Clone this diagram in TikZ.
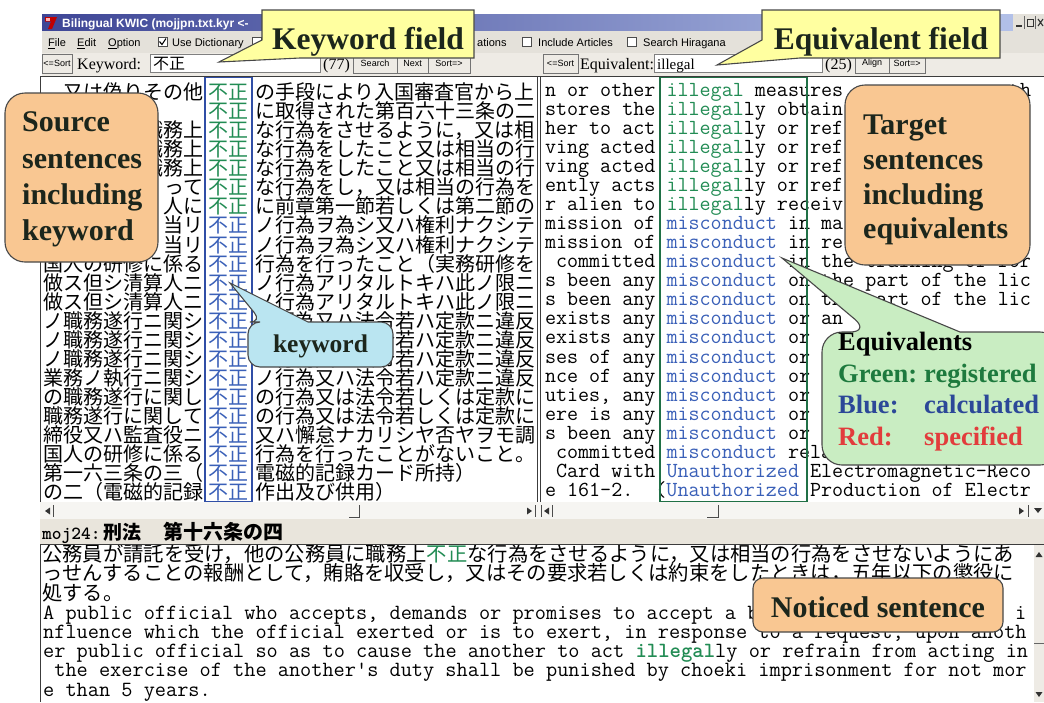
\documentclass[tikz,border=0pt]{standalone}
\usepackage{fontspec}
\setmainfont{Liberation Serif}
\setsansfont{Liberation Sans}
\newfontfamily\jpfont{Noto Sans CJK JP}
\frenchspacing

\definecolor{kwgreen}{RGB}{34,140,84}
\definecolor{kwblue}{RGB}{58,96,184}
\definecolor{colgreen}{RGB}{32,112,70}
\definecolor{colblue}{RGB}{48,78,166}
\definecolor{titleL}{RGB}{62,70,150}
\definecolor{titleR}{RGB}{178,192,232}
\definecolor{chrome}{RGB}{228,225,218}
\definecolor{chromelt}{RGB}{238,235,229}
\definecolor{band}{RGB}{233,229,220}
\definecolor{scrollbg}{RGB}{246,245,242}
\definecolor{frameline}{RGB}{60,60,60}
\definecolor{yellowbox}{RGB}{255,255,160}
\definecolor{peach}{RGB}{249,199,146}
\definecolor{cyanbox}{RGB}{186,229,241}
\definecolor{mintbox}{RGB}{201,237,194}
\definecolor{calloutline}{RGB}{72,72,72}
\definecolor{callouttext}{RGB}{28,38,28}
\definecolor{legendgreen}{RGB}{30,122,62}
\definecolor{legendblue}{RGB}{44,72,152}
\definecolor{legendred}{RGB}{226,60,60}

\newcommand\kwg[1]{\textcolor{kwgreen}{#1}}
\newcommand\kwb[1]{\textcolor{kwblue}{#1}}
% make the word space of the current monospaced font exactly one character wide
\newcommand\fixmono{\setbox0\hbox{x}\fontdimen2\font=\wd0 \fontdimen3\font=0pt \fontdimen4\font=0pt\relax}

% one row of the Japanese concordance: index, left context, keyword colour, right context
\newcommand\jprow[4]{%
  \pgfmathsetmacro\rowbase{99.6+19.05*(#1-1)}%
  \node[jptxt,anchor=base east] (jpre#1) at (203,\rowbase) {#2};
  \node[jptxt,anchor=base,text=#3] (jkw#1) at (228.5,\rowbase) {不正};
  \node[jptxt,anchor=base west] (jsuf#1) at (255,\rowbase) {#4};
}
% one row of the English concordance
\newcommand\enrow[2]{%
  \pgfmathsetmacro\rowbase{96.3+19.05*(#1-1)}%
  \node[entxt,anchor=base west] (en#1) at (545,\rowbase) {#2};
}

\begin{document}
\begin{tikzpicture}[x=1pt,y=-1pt,
  jptxt/.style={font=\jpfont\fontsize{20}{20}\selectfont, inner sep=0pt, outer sep=0pt,
    text height=15pt, text depth=1.5pt},
  jpbot/.style={font=\jpfont\fontsize{20.3}{20.3}\selectfont, inner sep=0pt, anchor=base west,
    text height=15pt, text depth=1.5pt},
  entxt/.style={font=\ttfamily\fontsize{21.45}{21.45}\selectfont\fixmono, inner sep=0pt, outer sep=0pt,
    text height=12.5pt, text depth=3.5pt},
  enbot/.style={font=\ttfamily\fontsize{21.7}{21.7}\selectfont\fixmono, inner sep=0pt, anchor=base west,
    text height=12.5pt, text depth=3.5pt},
  menutxt/.style={font=\sffamily\fontsize{11}{11}\selectfont, inner sep=0pt, anchor=base west},
  fieldlab/.style={font=\fontsize{16}{16}\selectfont, inner sep=0pt, anchor=base west},
  btn/.style={draw=black!55, fill=chromelt, line width=0.6pt, font=\sffamily\fontsize{9}{9}\selectfont,
    inner sep=0pt, minimum height=19pt},
  cbox/.style={draw=black!70, fill=white, line width=0.6pt},
  pane/.style={draw=frameline, line width=0.8pt},
  callout/.style={draw=calloutline, line width=1.1pt},
  calltxt/.style={font=\bfseries\fontsize{30}{30}\selectfont, text=callouttext, inner sep=0pt},
  legend/.style={font=\bfseries\fontsize{26.5}{26.5}\selectfont, inner sep=0pt, anchor=base west},
  arrowglyph/.style={fill=black!80}
]
\useasboundingbox (0,0) rectangle (1044,702);
\fill[white] (0,0) rectangle (1044,702);

% ---------- title bar ----------
\shade[left color=titleL, right color=titleR] (42,14) rectangle (1013,31);
\fill[chrome] (1013,14) rectangle (1044,31);
\draw[black!80, line width=1.2pt] (1016,26) -- (1022,26);
\draw[black!60, line width=0.5pt] (1024.5,16) -- (1024.5,29) (1035.5,16) -- (1035.5,29);
\draw[black!80, line width=1pt] (1027,19) rectangle (1033,26);
\draw[black!80, line width=1.1pt] (1038,19) -- (1043,26) (1038,26) -- (1043,19);
\fill[red!75!black] (45,17) -- (57,17) -- (52,29) -- (48,29) -- (51,21.5) -- (45,21.5) -- cycle;
\fill[red!30] (46,18) -- (50,18) -- (50,20.5) -- (46,20.5) -- cycle;
\node[font=\sffamily\bfseries\fontsize{12}{12}\selectfont, text=white, inner sep=0pt, anchor=base west]
  (title) at (62,27) {Bilingual KWIC (mojjpn.txt.kyr <-};

% ---------- menu bar ----------
\fill[chrome] (42,31) rectangle (1044,53);
\node[menutxt] (mfile) at (48,46.5) {\underline{F}ile};
\node[menutxt] (medit) at (77,46.5) {\underline{E}dit};
\node[menutxt] (mopt) at (108,46.5) {\underline{O}ption};
\draw[cbox] (158,37.5) rectangle (167,46.5);
\draw[black, line width=1.1pt] (159.5,41.5) -- (162,44.5) -- (166,38.5);
\node[menutxt] (mdict) at (172,46.5) {Use Dictionary};
\draw[cbox] (252,37.5) rectangle (261,46.5);
\node[menutxt] (mtrans) at (477,46.5) {ations};
\draw[cbox] (522,37.5) rectangle (531,46.5);
\node[menutxt] (marts) at (538,46.5) {Include Articles};
\draw[cbox] (627,37.5) rectangle (636,46.5);
\node[menutxt] (mhira) at (643,46.5) {Search Hiragana};

% ---------- keyword / equivalent row ----------
\fill[chromelt] (42,53) rectangle (1044,76);
\node[btn, minimum width=30pt] (sortL) at (57,63.5) {<=Sort};
\node[fieldlab] (kwlab) at (77,69) {Keyword:};
\draw[fill=white, draw=black!50, line width=0.6pt] (150,54.5) rectangle (320,72.5);
\node[font=\jpfont\fontsize{16}{16}\selectfont, inner sep=0pt, anchor=base west] (kwval) at (153,69) {不正};
\node[fieldlab] (kwcount) at (323,69) {(77)};
\node[btn, minimum width=44pt] (search) at (375,63.5) {Search};
\node[btn, minimum width=31pt] (nextb) at (412.5,63.5) {Next};
\node[btn, minimum width=42pt] (sortR) at (449,63.5) {Sort=>};
\node[btn, minimum width=35pt] (esortL) at (560.5,63.5) {<=Sort};
\node[fieldlab] (eqlab) at (580,69) {Equivalent:};
\draw[fill=white, draw=black!50, line width=0.6pt] (654,54.5) rectangle (822,72.5);
\node[fieldlab, font=\fontsize{15}{15}\selectfont] (eqval) at (657,69) {illegal};
\node[fieldlab] (eqcount) at (825,69) {(25)};
\node[btn, minimum width=34pt] (alignb) at (872,63.5) {Align};
\node[btn, minimum width=36pt] (esortR) at (907,63.5) {Sort=>};

% ---------- concordance panes ----------
\fill[white] (40,76) rectangle (1044,502);
\begin{scope}
  \clip (40,76) rectangle (537,502);
  \jprow{1}{又は偽りその他}{kwgreen}{の手段により入国審査官から上}
  \jprow{2}{}{kwgreen}{に取得された第百六十三条の二}
  \jprow{3}{職務上}{kwgreen}{な行為をさせるように，又は相}
  \jprow{4}{職務上}{kwgreen}{な行為をしたこと又は相当の行}
  \jprow{5}{職務上}{kwgreen}{な行為をしたこと又は相当の行}
  \jprow{6}{って}{kwgreen}{な行為をし，又は相当の行為を}
  \jprow{7}{人に}{kwgreen}{に前章第一節若しくは第二節の}
  \jprow{8}{当リ}{kwblue}{ノ行為ヲ為シ又ハ権利ナクシテ}
  \jprow{9}{当リ}{kwblue}{ノ行為ヲ為シ又ハ権利ナクシテ}
  \jprow{10}{国人の研修に係る}{kwblue}{行為を行ったこと（実務研修を}
  \jprow{11}{做ス但シ清算人ニ}{kwblue}{ノ行為アリタルトキハ此ノ限ニ}
  \jprow{12}{做ス但シ清算人ニ}{kwblue}{ノ行為アリタルトキハ此ノ限ニ}
  \jprow{13}{ノ職務遂行ニ関シ}{kwblue}{ノ行為又ハ法令若ハ定款ニ違反}
  \jprow{14}{ノ職務遂行ニ関シ}{kwblue}{ノ行為又ハ法令若ハ定款ニ違反}
  \jprow{15}{ノ職務遂行ニ関シ}{kwblue}{ノ行為又ハ法令若ハ定款ニ違反}
  \jprow{16}{業務ノ執行ニ関シ}{kwblue}{ノ行為又ハ法令若ハ定款ニ違反}
  \jprow{17}{の職務遂行に関し}{kwblue}{の行為又は法令若しくは定款に}
  \jprow{18}{職務遂行に関して}{kwblue}{の行為又は法令若しくは定款に}
  \jprow{19}{締役又ハ監査役ニ}{kwblue}{又ハ懈怠ナカリシヤ否ヤヲモ調}
  \jprow{20}{国人の研修に係る}{kwblue}{行為を行ったことがないこと。}
  \jprow{21}{第一六三条の三（}{kwblue}{電磁的記録カード所持）}
  \jprow{22}{の二（電磁的記録}{kwblue}{作出及び供用）}
\end{scope}
\begin{scope}
  \clip (540,76) rectangle (1036,502);
  \enrow{1}{n or other \kwg{illegal} measures.}
  \node[entxt, anchor=base west] (en1tail) at (1009,96.3) {th};
  \enrow{2}{stores the \kwg{illegal}ly obtain}
  \enrow{3}{her to act \kwg{illegal}ly or ref}
  \enrow{4}{ving acted \kwg{illegal}ly or ref}
  \enrow{5}{ving acted \kwg{illegal}ly or ref}
  \enrow{6}{ently acts \kwg{illegal}ly or ref}
  \enrow{7}{r alien to \kwg{illegal}ly receiv}
  \enrow{8}{mission of \kwb{misconduct} in ma}
  \enrow{9}{mission of \kwb{misconduct} in re}
  \enrow{10}{\ committed \kwb{misconduct} in the training of for}
  \enrow{11}{s been any \kwb{misconduct} on the part of the lic}
  \enrow{12}{s been any \kwb{misconduct} on the part of the lic}
  \enrow{13}{exists any \kwb{misconduct} or an}
  \enrow{14}{exists any \kwb{misconduct} or}
  \enrow{15}{ses of any \kwb{misconduct} or}
  \enrow{16}{nce of any \kwb{misconduct} or}
  \enrow{17}{uties, any \kwb{misconduct} or}
  \enrow{18}{ere is any \kwb{misconduct} or}
  \enrow{19}{s been any \kwb{misconduct} or}
  \enrow{20}{\ committed \kwb{misconduct} rela}
  \enrow{21}{\ Card with \kwb{Unauthorized} Electromagnetic-Reco}
  \enrow{22}{e 161-2.\ \ (\kwb{Unauthorized} Production of Electr}
\end{scope}
% keyword column frames
\draw[colblue, line width=1.5pt] (205,77) rectangle (252,502);
\draw[colgreen, line width=1.5pt] (660,77) rectangle (807,502);
% pane borders
\draw[pane] (40,76) -- (1044,76);
\draw[pane] (40,76) -- (40,519);
\draw[pane] (537,76) -- (537,502) (540,76) -- (540,502);

% ---------- horizontal scroll bars ----------
\fill[scrollbg] (40.4,502) rectangle (1044,519);
\fill[arrowglyph] (45,511) -- (50,507.5) -- (50,514.5) -- cycle;
\draw[black!70, line width=0.7pt] (53,505) -- (53,517);
\draw[black!70, line width=0.7pt] (349,517) -- (359,517) -- (359,505);
\fill[arrowglyph] (527,507.5) -- (532,511) -- (527,514.5) -- cycle;
\draw[black!70, line width=0.7pt] (535,505) -- (535,517) (541,505) -- (541,517);
\fill[arrowglyph] (544,511) -- (549,507.5) -- (549,514.5) -- cycle;
\draw[black!70, line width=0.7pt] (552,505) -- (552,517);
\draw[black!70, line width=0.7pt] (707,517) -- (718,517) -- (718,505);
\fill[arrowglyph] (1019,507.5) -- (1024,511) -- (1019,514.5) -- cycle;
\draw[black!70, line width=0.7pt] (1028,505) -- (1028,517);
\fill[arrowglyph] (1034,508) -- (1042,508) -- (1038,513) -- cycle;

% ---------- article label band ----------
\fill[band] (40,519) rectangle (1044,544);
\node[font=\ttfamily\bfseries\fontsize{18.5}{18.5}\selectfont, inner sep=0pt, anchor=base west]
  (artid) at (42,539) {moj24:};
\node[font=\jpfont\bfseries\fontsize{19}{19}\selectfont, inner sep=0pt, anchor=base west]
  (artlaw) at (103,539.5) {刑法};
\node[font=\jpfont\bfseries\fontsize{20}{20}\selectfont, inner sep=0pt, anchor=base west]
  (artno) at (163,539.5) {第十六条の四};

% ---------- noticed sentence pane ----------
\fill[white] (40,544) rectangle (1044,702);
\fill[chromelt] (1034,545) rectangle (1044,702);
\fill[arrowglyph] (1035.5,557) -- (1042.5,557) -- (1039,552) -- cycle;
\draw[black!60, line width=0.7pt] (1034,643) -- (1044,643);
\fill[arrowglyph] (1035.5,692) -- (1042.5,692) -- (1039,697) -- cycle;
\begin{scope}
  \clip (40,544.5) rectangle (1034,702);
  \node[jpbot] (bj1) at (42,561.5) {公務員が請託を受け，他の公務員に職務上\kwg{不正}な行為をさせるように，又は相当の行為をさせないようにあ};
  \node[jpbot] (bj2) at (42,580.8) {っせんすることの報酬として，賄賂を収受し，又はその要求若しくは約束をしたときは，五年以下の懲役に};
  \node[jpbot] (bj3) at (42,600) {処する。};
  \node[enbot] (be1) at (43,619.5) {A public official who accepts, demands or promises to accept a b};
  \node[enbot] (be1tail) at (1015,619.5) {i};
  \node[enbot] (be2) at (43,638.5) {nfluence which the official exerted or is to exert, in response to a request, upon anoth};
  \node[enbot] (be3) at (43,657.5) {er public official so as to cause the another to act \textbf{\kwg{illegal}}ly or refrain from acting in};
  \node[enbot] (be4) at (43,676.5) {\ the exercise of the another's duty shall be punished by choeki imprisonment for not mor};
  \node[enbot] (be5) at (43,696) {e than 5 years.};
\end{scope}
\draw[pane] (40,544) -- (1044,544);
\draw[pane] (40,544) -- (40,702);

% ---------- callouts ----------
% Keyword field
\filldraw[callout, fill=yellowbox] (262,10) -- (474,10) -- (474,58) -- (300,58) -- (219,62) -- (262,40) -- cycle;
\node[calltxt, font=\bfseries\fontsize{31.5}{31.5}\selectfont, anchor=base] (kwfield) at (368,49) {Keyword field};
% Equivalent field
\filldraw[callout, fill=yellowbox] (762,10) -- (1000,10) -- (1000,58) -- (800,58) -- (717,65) -- (762,40) -- cycle;
\node[calltxt, font=\bfseries\fontsize{31.5}{31.5}\selectfont, anchor=base] (eqfield) at (881,49) {Equivalent field};
% Source sentences
\filldraw[callout, fill=peach, rounded corners=20pt] (5,93) rectangle (158,262);
\node[calltxt, anchor=base west] (src1) at (22,131) {Source};
\node[calltxt, anchor=base west] (src2) at (22,168) {sentences};
\node[calltxt, anchor=base west] (src3) at (22,204) {including};
\node[calltxt, anchor=base west] (src4) at (22,240) {keyword};
% Target sentences
\filldraw[callout, fill=peach, rounded corners=20pt] (845,85) rectangle (1030,265);
\node[calltxt, anchor=base west] (tgt1) at (863,134) {Target};
\node[calltxt, anchor=base west] (tgt2) at (863,169) {sentences};
\node[calltxt, anchor=base west] (tgt3) at (863,204) {including};
\node[calltxt, anchor=base west] (tgt4) at (863,238) {equivalents};
% keyword
\filldraw[callout, fill=cyanbox] (320,367) [rounded corners=12pt] -- (248,367) -- (248,322) -- (262,322)
  [sharp corners] -- (230,283) -- (308,322) [rounded corners=12pt] -- (393,322) -- (393,367) -- cycle;
\node[calltxt, font=\bfseries\fontsize{25.5}{25.5}\selectfont, anchor=base] (kwnote) at (320.5,352) {keyword};
% Equivalents legend
\filldraw[callout, fill=mintbox] (930,465) [rounded corners=20pt] -- (822,465) -- (822,332) -- (870,332)
  [sharp corners] -- (782,258) -- (960,332) [rounded corners=20pt] -- (1060,332) -- (1060,465) -- cycle;
\node[legend, text=black] (lg0) at (838,350) {Equivalents};
\node[legend, text=legendgreen] (lg1) at (838,382) {Green:};
\node[legend, text=legendgreen] (lg1v) at (924,382) {registered};
\node[legend, text=legendblue] (lg2) at (838,413) {Blue:};
\node[legend, text=legendblue] (lg2v) at (924,413) {calculated};
\node[legend, text=legendred] (lg3) at (838,445) {Red:};
\node[legend, text=legendred] (lg3v) at (924,445) {specified};
% Noticed sentence
\filldraw[callout, fill=peach, rounded corners=10pt] (753,578) rectangle (1003,632);
\node[calltxt, anchor=base] (noticed) at (878,617) {Noticed sentence};
\end{tikzpicture}
\end{document}
